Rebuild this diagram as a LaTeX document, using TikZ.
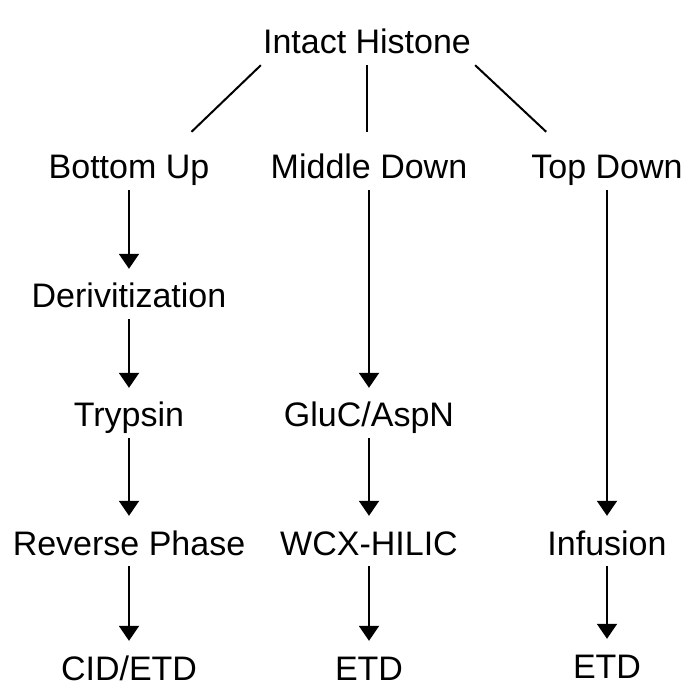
\documentclass[tikz,border=0pt]{standalone}
\usepackage{fontspec}
\setmainfont{Liberation Sans}
\usetikzlibrary{arrows.meta}
\tikzset{
	step box/.style={anchor=base, inner sep=0pt, text height=25pt, text depth=0pt, font=\fontsize{34}{40}\selectfont},
	flow/.style={line width=2pt, -{Triangle[width=20pt,length=15pt]}, shorten <=11pt, shorten >=14pt},
	branch/.style={line width=2pt}
}

\begin{document}
\begin{tikzpicture}[x=1pt, y=1pt]
		%%%%% START %%%%%
		
		\useasboundingbox (0, 0) rectangle (696, 694);
		
		\node[step box] (hist) at (367, 640) {Intact Histone};
		
		\node[step box] (bu) at (129, 515) {Bottom Up};
		\node[step box] (md) at (369, 515) {Middle Down};
		\node[step box] (td) at (607, 515) {Top Down};
		
		\node[step box] (deriv) at (129, 386) {Derivitization};
		
		\node[step box] (tryp) at (129, 267) {Trypsin};
		\node[step box] (gluc) at (369, 267) {GluC/AspN};
		
		\node[step box] (rp) at (129, 139) {Reverse Phase};
		\node[step box] (wcx) at (369, 139) {WCX-HILIC};
		\node[step box] (inf) at (607, 139) {Infusion};
		
		\node[step box] (cid) at (129, 14) {CID/ETD};
		\node[step box] (etdm) at (369, 14) {ETD};
		\node[step box] (etdt) at (607, 16) {ETD};
		
		\draw[branch] ([xshift=-2pt, yshift=-11pt]hist.south west) -- ([xshift=-18pt, yshift=22pt]bu.north east);
		\draw[branch] ([yshift=-11pt]hist.south) -- ([yshift=22pt]hist.south |- md.north);
		\draw[branch] ([xshift=4pt, yshift=-11pt]hist.south east) -- ([xshift=15pt, yshift=22pt]td.north west);
		
		\draw[flow] (bu) -- (deriv);
		\draw[flow] (deriv) -- (tryp);
		\draw[flow] (tryp) -- (rp);
		\draw[flow] (rp) -- (cid);
		
		\draw[flow] (md) -- (gluc);
		\draw[flow] (gluc) -- (wcx);
		\draw[flow] (wcx) -- (etdm);
		
		\draw[flow] (td) -- (inf);
		\draw[flow] (inf) -- (etdt);
		
		%%%%% END %%%%%
	\end{tikzpicture}
\end{document}
